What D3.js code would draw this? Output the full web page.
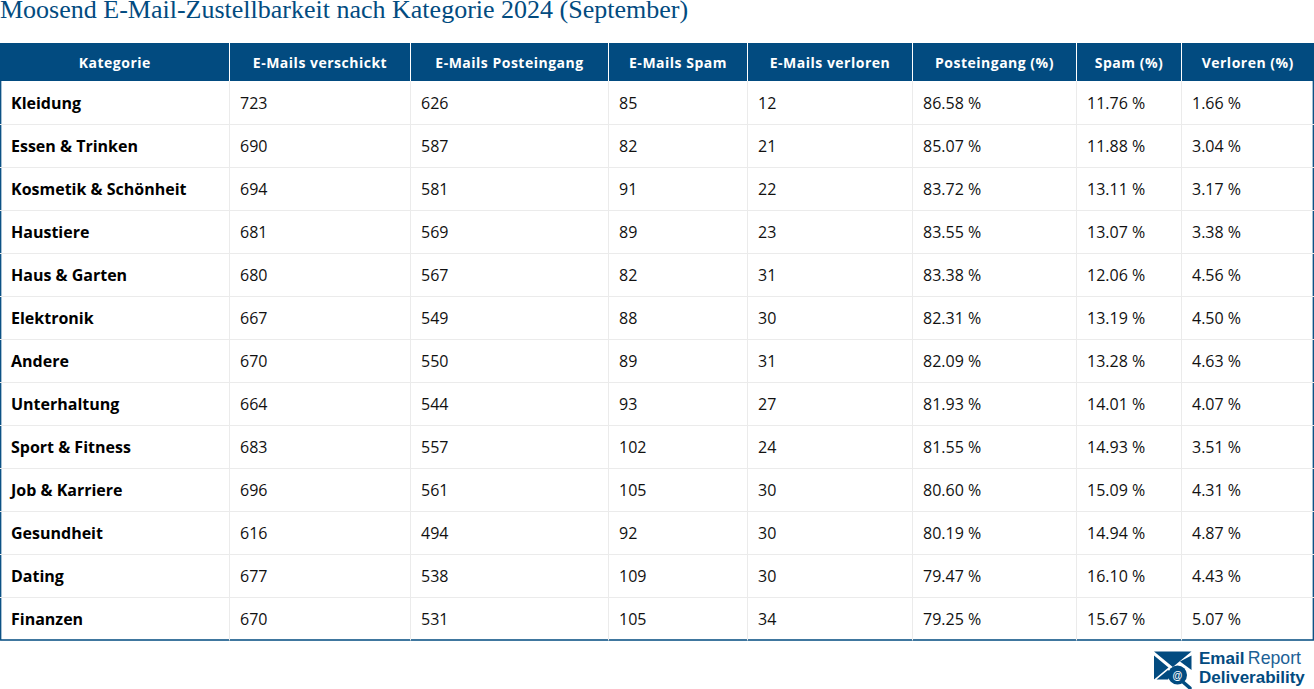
<!DOCTYPE html>
<html><head><meta charset="utf-8">
<script src="https://cdn.jsdelivr.net/npm/d3@7"></script>
<style>html,body{margin:0;padding:0;background:#fff;overflow:hidden}svg{display:block}</style>
</head><body><div id="c"></div>
<script>
const titleText = "Moosend E-Mail-Zustellbarkeit nach Kategorie 2024 (September)";
const columns = ["Kategorie","E-Mails verschickt","E-Mails Posteingang","E-Mails Spam","E-Mails verloren","Posteingang (%)","Spam (%)","Verloren (%)"];
const categories = ["Kleidung","Essen & Trinken","Kosmetik & Schönheit","Haustiere","Haus & Garten","Elektronik","Andere","Unterhaltung","Sport & Fitness","Job & Karriere","Gesundheit","Dating","Finanzen"];
const sent = [723,690,694,681,680,667,670,664,683,696,616,677,670];
const inbox = [626,587,581,569,567,549,550,544,557,561,494,538,531];
const spam = [85,82,91,89,82,88,89,93,102,105,92,109,105];
const lost = [12,21,22,23,31,30,31,27,24,30,30,30,34];
const inboxPct = ["86.58 %","85.07 %","83.72 %","83.55 %","83.38 %","82.31 %","82.09 %","81.93 %","81.55 %","80.60 %","80.19 %","79.47 %","79.25 %"];
const spamPct = ["11.76 %","11.88 %","13.11 %","13.07 %","12.06 %","13.19 %","13.28 %","14.01 %","14.93 %","15.09 %","14.94 %","16.10 %","15.67 %"];
const lostPct = ["1.66 %","3.04 %","3.17 %","3.38 %","4.56 %","4.50 %","4.63 %","4.07 %","3.51 %","4.31 %","4.87 %","4.43 %","5.07 %"];

const W=1314,H=689, BLUE="#024b80", GRID="#ebebeb";
const edges=[0,229.5,410.5,608.5,747.5,912.5,1076.5,1181.5,1314];
const x=d3.scaleOrdinal(columns,edges.slice(0,-1));
const xEnd=d3.scaleOrdinal(columns,edges.slice(1));
const bodyTop=81.5, rowH=43;
const y=d3.scaleBand().domain(categories).range([bodyTop,bodyTop+rowH*categories.length]);
const svg=d3.select("#c").append("svg").attr("width",W).attr("height",H);
const SANS="'Open Sans',sans-serif";

svg.append("text").attr("x",0).attr("y",18).attr("font-family","'Liberation Serif',serif")
  .attr("font-size",26).attr("fill",BLUE).text(titleText);

// header
svg.append("rect").attr("x",0).attr("y",43).attr("width",W).attr("height",38).attr("fill",BLUE);
svg.append("g").selectAll("line").data(columns.slice(1)).join("line")
  .attr("x1",d=>x(d)).attr("x2",d=>x(d)).attr("y1",43).attr("y2",81).attr("stroke","#fff");
svg.append("g").selectAll("text").data(columns).join("text")
  .attr("x",d=>(x(d)+xEnd(d))/2).attr("y",67.5).attr("text-anchor","middle")
  .attr("font-family",SANS).attr("font-weight",700).attr("font-size",14).attr("letter-spacing",0.5).attr("fill","#fff").text(d=>d);

// outer border
svg.append("path").attr("fill","none").attr("stroke",BLUE).attr("stroke-width",1.3)
  .attr("d",d3.line()([[0.7,81],[0.7,y.range()[1]-0.5],[W-0.7,y.range()[1]-0.5],[W-0.7,81]]));

// grid
svg.append("g").selectAll("line").data(columns.slice(1)).join("line")
  .attr("x1",d=>x(d)).attr("x2",d=>x(d)).attr("y1",81).attr("y2",y.range()[1]).attr("stroke",GRID);
svg.append("g").selectAll("line").data(categories.slice(0,-1)).join("line")
  .attr("x1",0).attr("x2",W).attr("y1",d=>y(d)+rowH).attr("y2",d=>y(d)+rowH).attr("stroke",GRID);

// cells
const series=[categories,sent,inbox,spam,lost,inboxPct,spamPct,lostPct];
columns.forEach((col,ci)=>{
  svg.append("g").selectAll("text").data(series[ci]).join("text")
    .attr("x",x(col)+(ci===0?11:10.5))
    .attr("y",(d,i)=>y(categories[i])+rowH/2+5.8)
    .attr("font-family",SANS).attr("font-size",16)
    .attr("font-weight",ci===0?700:400).attr("fill",ci===0?"#000":"#111").text(d=>d);
});

// logo
const logo=svg.append("g");
logo.append("path").attr("fill",BLUE)
 .attr("d","M1154 651.5H1191.5L1172.8 667ZM1154 655.5L1168.5 667.5L1154 679.5ZM1191.5 655.5V670L1180 661.5ZM1156.5 679.5L1168 670L1172 673L1168 679.5Z");
logo.append("circle").attr("cx",1177.5).attr("cy",675).attr("r",9.5).attr("fill",BLUE);
logo.append("line").attr("x1",1183).attr("y1",682).attr("x2",1190).attr("y2",688).attr("stroke",BLUE).attr("stroke-width",3.5).attr("stroke-linecap","round");
logo.append("text").attr("x",1177.5).attr("y",678.5).attr("text-anchor","middle").attr("font-family","'Liberation Sans',sans-serif").attr("font-size",10).attr("font-weight",700).attr("fill","#fff").text("@");
const t1=logo.append("text").attr("x",1199).attr("y",664).attr("font-family","'Liberation Sans',sans-serif").attr("font-size",17).attr("fill",BLUE);
t1.append("tspan").attr("font-weight",700).text("Email");
t1.append("tspan").attr("dx",3.5).attr("font-size",17.7).attr("fill","#1d6196").text("Report");
logo.append("text").attr("x",1199).attr("y",683).attr("font-family","'Liberation Sans',sans-serif").attr("font-size",17).attr("font-weight",700).attr("fill",BLUE).text("Deliverability");
</script></body></html>
